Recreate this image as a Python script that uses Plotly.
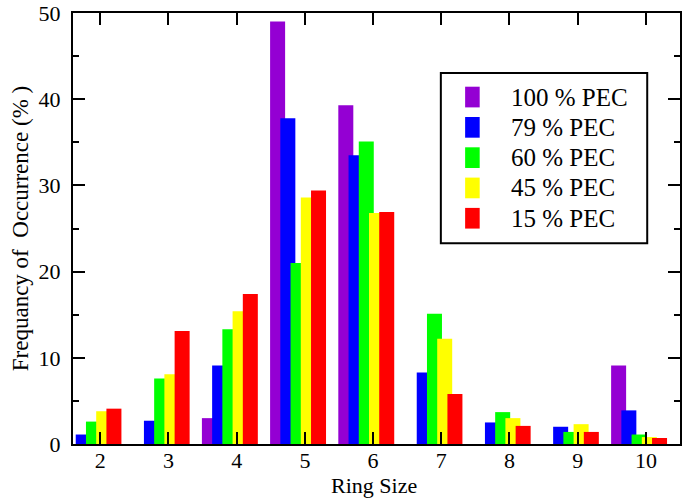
import plotly.graph_objects as go

# Ring-size distribution for each PEC content
ring_sizes = [2, 3, 4, 5, 6, 7, 8, 9, 10]
series_names = ["100 % PEC", "79 % PEC", "60 % PEC", "45 % PEC", "15 % PEC"]
series_colors = ["#9400D3", "#0000FF", "#00FF00", "#FFFF00", "#FF0000"]

pec_100 = [0.0, 0.0, 3.0, 49.0, 39.3, 0.0, 0.0, 0.0, 9.1]
pec_79 = [1.1, 2.7, 9.1, 37.8, 33.5, 8.3, 2.5, 2.0, 3.9]
pec_60 = [2.6, 7.6, 13.3, 21.0, 35.1, 15.1, 3.7, 1.4, 1.1]
pec_45 = [3.8, 8.1, 15.4, 28.6, 26.8, 12.2, 3.0, 2.3, 0.8]
pec_15 = [4.1, 13.1, 17.4, 29.4, 26.9, 5.8, 2.1, 1.4, 0.7]
series_values = [pec_100, pec_79, pec_60, pec_45, pec_15]

BAR_WIDTH = 0.22      # bar width in ring-size units
BAR_STEP = 0.15       # offset between consecutive series (bars overlap)
FIRST_OFFSET = -0.40  # centre of the first series relative to the tick

FONT = "Liberation Serif"
FS = 22

fig = go.Figure()
for i, (name, color, vals) in enumerate(zip(series_names, series_colors, series_values)):
    fig.add_trace(go.Bar(
        x=[r + FIRST_OFFSET + i * BAR_STEP for r in ring_sizes],
        y=vals,
        width=BAR_WIDTH,
        name=name,
        marker=dict(color=color, line=dict(width=0)),
        showlegend=False,
    ))

# Hand-drawn legend box with swatches and labels
box_x0, box_x1 = 0.606, 0.946
box_y0, box_y1 = 0.466, 0.861
fig.add_shape(type="rect", xref="paper", yref="paper",
              x0=box_x0, x1=box_x1, y0=box_y0, y1=box_y1,
              line=dict(color="black", width=2), fillcolor="white", layer="above")
row_top = 0.805
row_gap = 0.0703
sw_h = 0.048
for i, (name, color) in enumerate(zip(series_names, series_colors)):
    yc = row_top - i * row_gap
    fig.add_shape(type="rect", xref="paper", yref="paper",
                  x0=0.646, x1=0.670, y0=yc - sw_h / 2, y1=yc + sw_h / 2,
                  line=dict(width=0), fillcolor=color, layer="above")
    fig.add_annotation(xref="paper", yref="paper", x=0.718, y=yc,
                       text=name, showarrow=False, xanchor="left", yanchor="middle",
                       font=dict(family=FONT, size=25, color="black"))

# x-axis title placed just under the tick labels
fig.add_annotation(xref="paper", yref="paper", x=0.4965, y=-0.062,
                   text="Ring Size", showarrow=False, xanchor="center", yanchor="top",
                   font=dict(family=FONT, size=FS, color="black"))

fig.update_layout(
    barmode="overlay",
    width=683, height=502,
    margin=dict(l=73, r=1, t=13, b=58),
    plot_bgcolor="white",
    paper_bgcolor="white",
    font=dict(family=FONT, size=FS, color="black"),
)
fig.update_xaxes(
    range=[1.6, 10.5],
    tickvals=ring_sizes,
    ticktext=[str(r) for r in ring_sizes],
    ticks="inside", ticklen=12, tickwidth=2, tickcolor="black",
    showline=True, linewidth=2, linecolor="black", mirror="ticks",
    showgrid=False, zeroline=False,
    tickfont=dict(family=FONT, size=FS),
    ticklabelstandoff=-4,
)
fig.update_yaxes(
    range=[0, 50],
    dtick=10,
    ticks="inside", ticklen=12, tickwidth=2, tickcolor="black",
    minor=dict(dtick=5, ticks="inside", ticklen=6, tickwidth=2, tickcolor="black"),
    showline=True, linewidth=2, linecolor="black", mirror="ticks",
    showgrid=False, zeroline=False,
    tickfont=dict(family=FONT, size=FS),
    ticklabelstandoff=6,
    title=dict(text="Frequancy of  Occurrence (% )", font=dict(family=FONT, size=23), standoff=4),
)

fig.write_html("out.html")
